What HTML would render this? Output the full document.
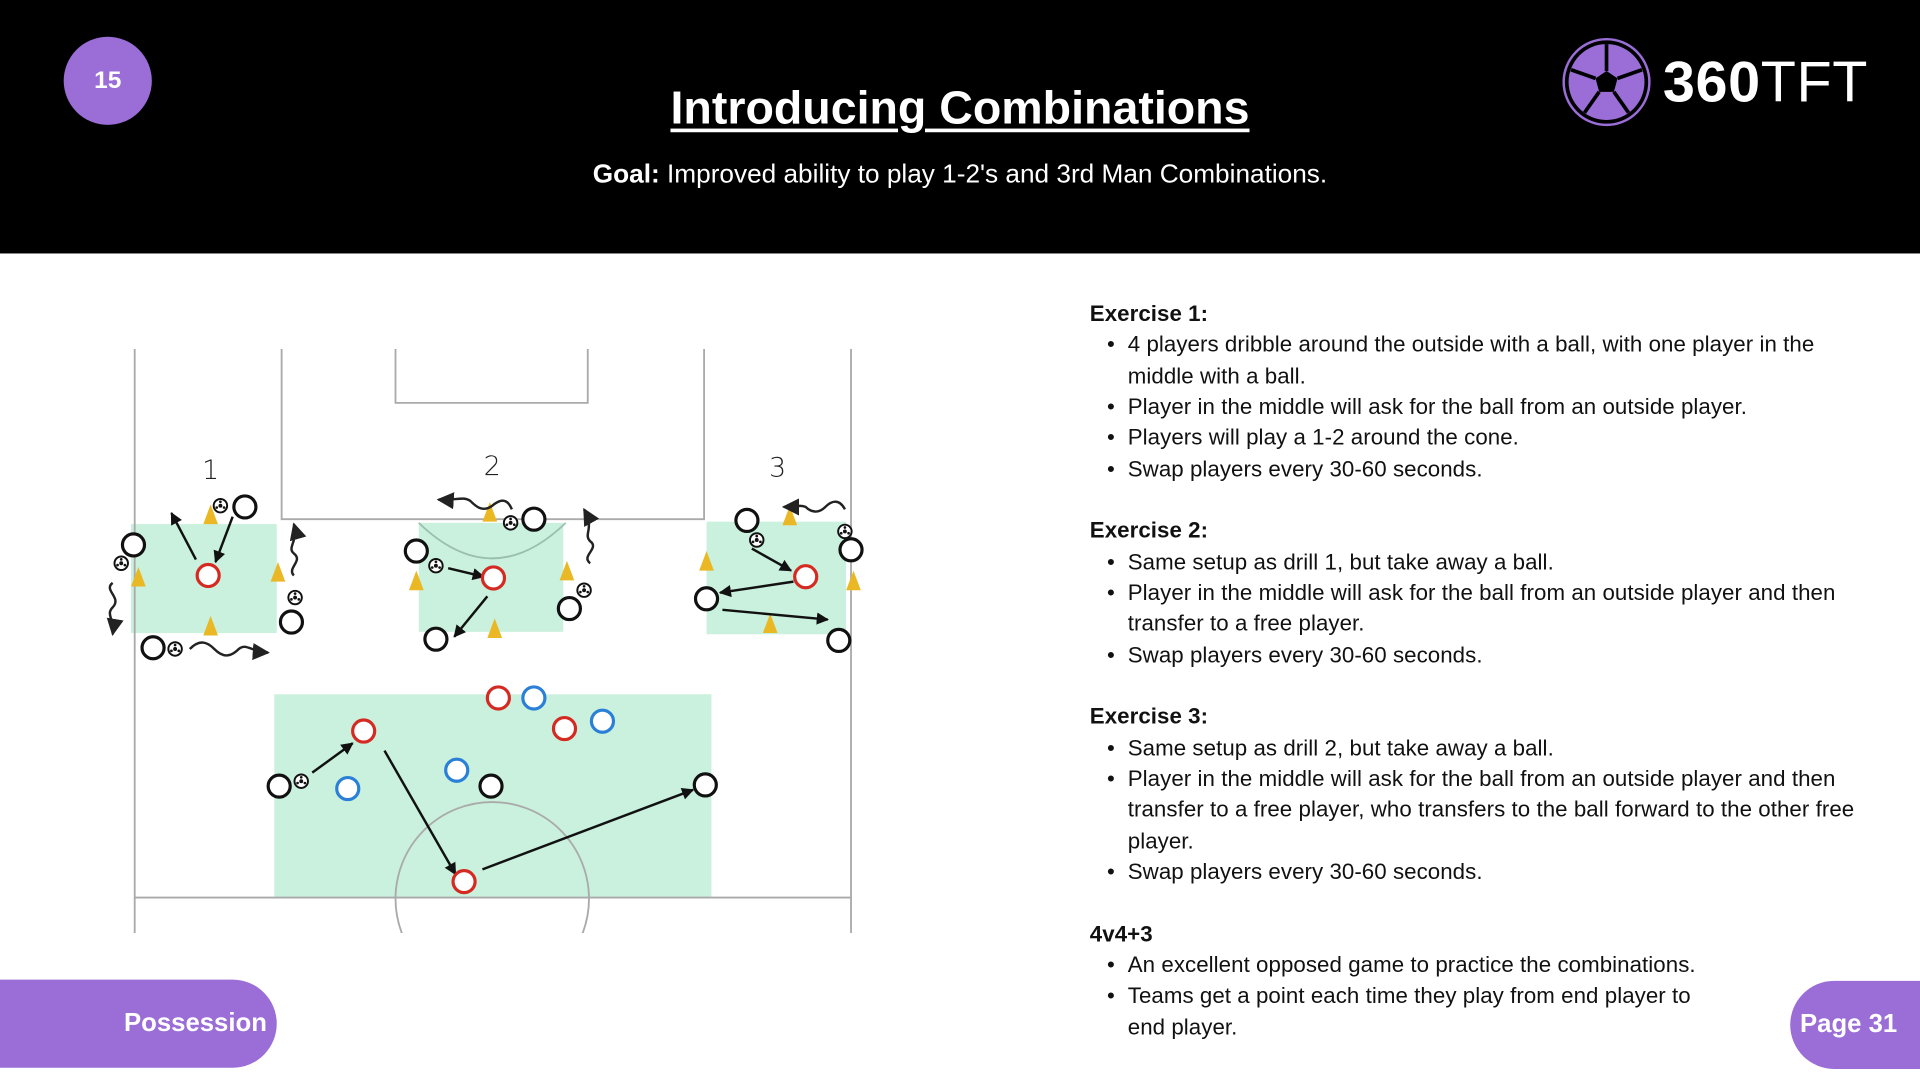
<!DOCTYPE html>
<html><head><meta charset="utf-8"><style>
html,body{margin:0;padding:0;background:#fff;width:1920px;height:1080px;overflow:hidden}
#w{position:absolute;left:0;top:0;width:1568px;height:882px;transform:scale(1.22449);transform-origin:0 0;font-family:"Liberation Sans",sans-serif}
#hdr{position:absolute;left:0;top:0;width:1568px;height:207px;background:#000}
.pill{position:absolute;background:#9a6dd7;color:#fff;font-weight:bold}
#txt{position:absolute;left:890px;top:244px;font-size:18.2px;line-height:25.33px;color:#111;letter-spacing:0.05px}
#txt b{display:block}
#txt .li{position:relative;padding-left:31px}
#txt .li:before{content:"•";position:absolute;left:14px}
#txt .sp{height:25.33px}
</style></head><body><div id="w">
<div id="hdr">
 <div class="pill" style="left:52px;top:30px;width:72px;height:72px;border-radius:50%;font-size:20px;line-height:72px;text-align:center">15</div>
 <div style="position:absolute;left:0;width:1568px;top:68px;text-align:center;color:#fff;font-size:38px;font-weight:bold;text-decoration:underline;text-decoration-thickness:3px;text-underline-offset:4px">Introducing Combinations</div>
 <div style="position:absolute;left:0;width:1568px;top:130px;text-align:center;color:#fff;font-size:21.4px"><b>Goal:</b> Improved ability to play 1-2's and 3rd Man Combinations.</div>
 <svg style="position:absolute;left:1274px;top:29px" width="76" height="76" viewBox="-38 -38 76 76">
  <circle r="35" fill="#000" stroke="#9a6dd7" stroke-width="2"/>
  <circle r="31" fill="#9a6dd7"/>
  <polygon points="0,-9 9,-3 6,8 -6,8 -9,-3" fill="#000"/>
  <g stroke="#000" stroke-width="3"><line x1="0" y1="-9" x2="0" y2="-31"/><line x1="9" y1="-3" x2="29" y2="-10"/><line x1="6" y1="8" x2="18" y2="25"/><line x1="-6" y1="8" x2="-18" y2="25"/><line x1="-9" y1="-3" x2="-29" y2="-10"/></g>
 </svg>
 <div style="position:absolute;left:1358px;top:40px;color:#fff;font-size:47px;line-height:54px;letter-spacing:0.5px"><b>360</b>TFT</div>
</div>

<svg style="position:absolute;left:0;top:0" width="1568" height="882" viewBox="0 0 1568 882">
 <defs>
  <marker id="a" viewBox="0 0 10 10" refX="9" refY="5" markerWidth="5" markerHeight="5" orient="auto"><path d="M0,0L10,5L0,10z" fill="#111"/></marker>
  <marker id="b" viewBox="0 0 10 10" refX="9" refY="5" markerWidth="7" markerHeight="7" orient="auto"><path d="M0,0L10,5L0,10z" fill="#222"/></marker>
  <clipPath id="c"><rect x="0" y="0" width="1568" height="762"/></clipPath>
  <g id="ball"><circle r="5.5" fill="#fff" stroke="#111" stroke-width="1.6"/><circle r="1.6" fill="#111"/><circle cx="0" cy="-3.2" r="1.1" fill="#111"/><circle cx="3" cy="1.5" r="1.1" fill="#111"/><circle cx="-3" cy="1.5" r="1.1" fill="#111"/></g>
  <polygon id="cone" points="0,-8 6,8 -6,8" fill="#e9b824"/>
 </defs>
 <g fill="#c9f1dd"><rect x="107" y="428" width="119" height="89"/><rect x="342" y="427" width="118" height="89"/><rect x="577" y="426" width="114" height="92"/><rect x="224" y="567" width="357" height="166"/></g>
 <g fill="none" stroke="#aaa" stroke-width="1.5" clip-path="url(#c)">
  <line x1="110" y1="285" x2="110" y2="762"/><line x1="695" y1="285" x2="695" y2="762"/>
  <line x1="110" y1="733" x2="695" y2="733"/>
  <polyline points="230,285 230,424 575,424 575,285"/>
  <polyline points="323,285 323,329 480,329 480,285"/>
  <circle cx="402" cy="734" r="79"/>
  <path d="M342,427 Q402,485 462,427" stroke="#9bbfae"/>
 </g>
 <g font-size="22" fill="#222" text-anchor="middle" font-family="DejaVu Sans" font-weight="200"><text x="172" y="391">1</text><text x="402" y="388">2</text><text x="635" y="389">3</text></g>
 <g><use href="#cone" x="172" y="420"/><use href="#cone" x="113" y="471"/><use href="#cone" x="227" y="467"/><use href="#cone" x="172" y="511"/>
 <use href="#cone" x="400" y="418"/><use href="#cone" x="340" y="474"/><use href="#cone" x="463" y="466"/><use href="#cone" x="404" y="513"/>
 <use href="#cone" x="645" y="421"/><use href="#cone" x="577" y="458"/><use href="#cone" x="697" y="474"/><use href="#cone" x="629" y="509"/></g>
 <g stroke="#111" stroke-width="2" fill="none" marker-end="url(#a)">
  <line x1="160" y1="457" x2="140" y2="419"/><line x1="190" y1="422" x2="176" y2="459"/>
  <line x1="366" y1="464" x2="395" y2="471"/><line x1="398" y1="487" x2="371" y2="520"/>
  <line x1="614" y1="448" x2="646" y2="466"/><line x1="648" y1="475" x2="588" y2="484"/><line x1="590" y1="498" x2="676" y2="506"/>
  <line x1="255" y1="631" x2="288" y2="607"/><line x1="314" y1="613" x2="372" y2="714"/><line x1="394" y1="710" x2="566" y2="645"/>
 </g>
 <g stroke="#222" stroke-width="2" fill="none" marker-end="url(#b)">
  <path d="M92,476 c-8,6 8,12 0,20 c-6,6 2,10 0,22"/>
  <path d="M240,470 c-6,-6 8,-12 0,-18 c-6,-5 4,-10 0,-24"/>
  <path d="M155,530 c8,-8 14,-6 20,0 c8,8 14,6 20,0 c6,-5 10,2 24,3"/>
  <path d="M418,416 c-4,-10 -10,-8 -16,-3 c-8,6 -14,0 -18,-4 c-6,-4 -12,0 -26,-1"/>
  <path d="M482,460 c-8,-6 8,-12 0,-18 c-6,-6 4,-10 -5,-26"/>
  <path d="M690,416 c-4,-8 -10,-8 -16,-2 c-6,6 -12,4 -16,0 c-4,-2 -10,0 -18,0"/>
 </g>
 <g fill="#fff" stroke-width="2.6">
  <g stroke="#111"><circle cx="200" cy="414" r="9"/><circle cx="109" cy="445" r="9"/><circle cx="238" cy="508" r="9"/><circle cx="125" cy="529" r="9"/>
  <circle cx="436" cy="424" r="9"/><circle cx="340" cy="450" r="9"/><circle cx="465" cy="497" r="9"/><circle cx="356" cy="522" r="9"/>
  <circle cx="610" cy="425" r="9"/><circle cx="695" cy="449" r="9"/><circle cx="577" cy="489" r="9"/><circle cx="685" cy="523" r="9"/>
  <circle cx="228" cy="642" r="9"/><circle cx="401" cy="642" r="9"/><circle cx="576" cy="641" r="9"/></g>
  <g stroke="#d42a22"><circle cx="170" cy="470" r="9"/><circle cx="403" cy="472" r="9"/><circle cx="658" cy="471" r="9"/>
  <circle cx="297" cy="597" r="9"/><circle cx="407" cy="570" r="9"/><circle cx="461" cy="595" r="9"/><circle cx="379" cy="720" r="9"/></g>
  <g stroke="#2a7fd6"><circle cx="436" cy="570" r="9"/><circle cx="492" cy="589" r="9"/><circle cx="373" cy="629" r="9"/><circle cx="284" cy="644" r="9"/></g>
 </g>
 <g><use href="#ball" x="180" y="413"/><use href="#ball" x="99" y="460"/><use href="#ball" x="241" y="488"/><use href="#ball" x="143" y="530"/>
 <use href="#ball" x="417" y="427"/><use href="#ball" x="356" y="462"/><use href="#ball" x="477" y="482"/>
 <use href="#ball" x="618" y="441"/><use href="#ball" x="690" y="434"/><use href="#ball" x="246" y="638"/></g>
</svg>

<div id="txt">
<b>Exercise 1:</b>
<div class="li">4 players dribble around the outside with a ball, with one player in the<br>middle with a ball.</div>
<div class="li">Player in the middle will ask for the ball from an outside player.</div>
<div class="li">Players will play a 1-2 around the cone.</div>
<div class="li">Swap players every 30-60 seconds.</div>
<div class="sp"></div>
<b>Exercise 2:</b>
<div class="li">Same setup as drill 1, but take away a ball.</div>
<div class="li">Player in the middle will ask for the ball from an outside player and then<br>transfer to a free player.</div>
<div class="li">Swap players every 30-60 seconds.</div>
<div class="sp"></div>
<b>Exercise 3:</b>
<div class="li">Same setup as drill 2, but take away a ball.</div>
<div class="li">Player in the middle will ask for the ball from an outside player and then<br>transfer to a free player, who transfers to the ball forward to the other free<br>player.</div>
<div class="li">Swap players every 30-60 seconds.</div>
<div class="sp"></div>
<b>4v4+3</b>
<div class="li">An excellent opposed game to practice the combinations.</div>
<div class="li">Teams get a point each time they play from end player to<br>end player.</div>
</div>

<div class="pill" style="left:-40px;top:800px;width:266px;height:72px;border-radius:36px;font-size:21px;line-height:72px;text-align:right;box-sizing:border-box;padding-right:8px">Possession</div>
<div class="pill" style="left:1462px;top:801px;width:150px;height:72px;border-radius:36px;font-size:21px;line-height:72px;box-sizing:border-box;padding-left:8px">Page 31</div>
</div></body></html>
